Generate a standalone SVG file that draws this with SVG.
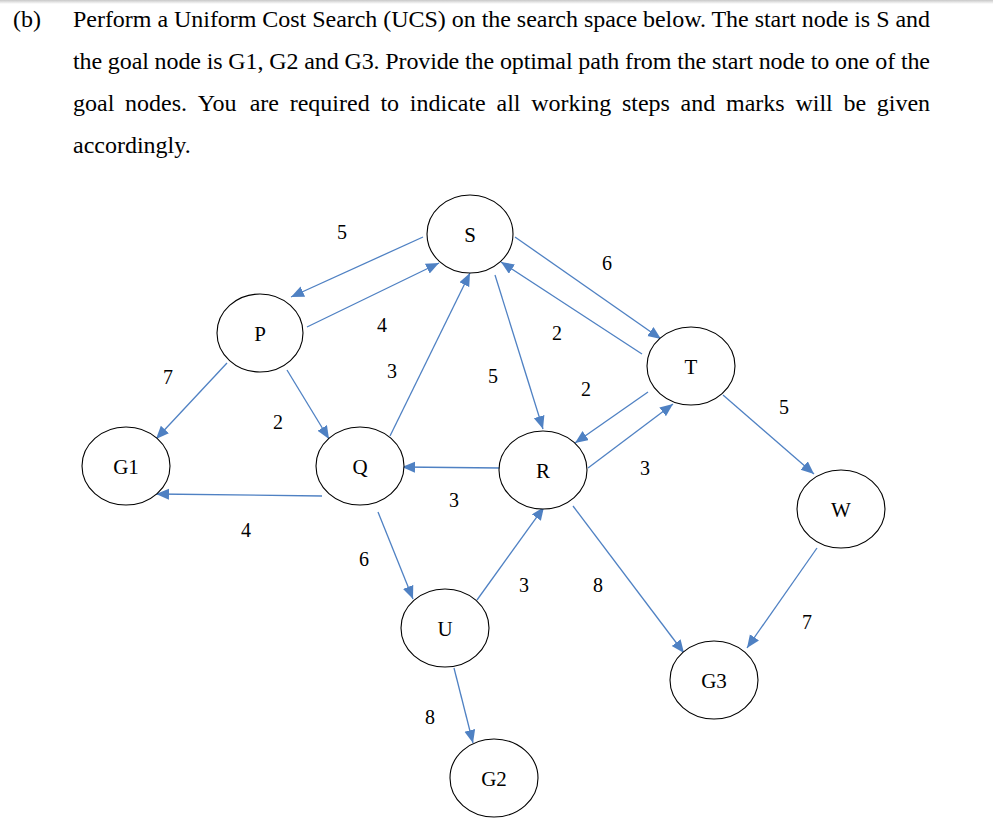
<svg xmlns="http://www.w3.org/2000/svg" width="993" height="826" viewBox="0 0 993 826">
<style>
.t{font-family:"Liberation Serif","Times New Roman",serif;font-size:24px;fill:#000}
.n{font-family:"Liberation Serif","Times New Roman",serif;font-size:21px;fill:#000;text-anchor:middle}
.w{font-family:"Liberation Serif","Times New Roman",serif;font-size:20px;fill:#000;text-anchor:middle}
ellipse{fill:#fff;stroke:#000;stroke-width:1.1}
.e{stroke:#4f81c3;stroke-width:1.3;fill:none;marker-end:url(#a)}
</style>
<defs>
<marker id="a" markerUnits="userSpaceOnUse" markerWidth="14" markerHeight="12" refX="13" refY="5.5" orient="auto">
<path d="M0,0 L13,5.5 L0,11 z" fill="#4f81c3"/>
</marker>
<linearGradient id="sh" x1="0" y1="0" x2="0" y2="1">
<stop offset="0" stop-color="#c8c8c8"/><stop offset="1" stop-color="#fff"/>
</linearGradient>
</defs>
<rect width="993" height="826" fill="#fff"/>
<rect width="993" height="4" fill="url(#sh)"/>
<g id="question">
<text class="t" x="13" y="27">(b)</text>
<text class="t" x="73" y="27" textLength="857" lengthAdjust="spacing">Perform a Uniform Cost Search (UCS) on the search space below. The start node is S and</text>
<text class="t" x="73" y="69" textLength="857" lengthAdjust="spacing">the goal node is G1, G2 and G3. Provide the optimal path from the start node to one of the</text>
<text class="t" y="111"><tspan x="73">goal</tspan><tspan x="125">nodes.</tspan><tspan x="197.7">You</tspan><tspan x="249.7">are</tspan><tspan x="289.7">required</tspan><tspan x="380.4">to</tspan><tspan x="409.8">indicate</tspan><tspan x="496.5">all</tspan><tspan x="531.2">working</tspan><tspan x="621.9">steps</tspan><tspan x="680.6">and</tspan><tspan x="726">marks</tspan><tspan x="795.4">will</tspan><tspan x="843.4">be</tspan><tspan x="876.8">given</tspan></text>
<text class="t" x="73" y="153">accordingly.</text>
</g>
<g id="connectors">
<line class="e" x1="423" y1="237" x2="291" y2="297"/>
<line class="e" x1="307" y1="327" x2="439" y2="263"/>
<line class="e" x1="390" y1="436" x2="470" y2="273"/>
<line class="e" x1="495" y1="275" x2="543" y2="429"/>
<line class="e" x1="515" y1="237" x2="661" y2="339"/>
<line class="e" x1="642" y1="354" x2="501" y2="262"/>
<line class="e" x1="648" y1="392" x2="575" y2="443"/>
<line class="e" x1="588" y1="468" x2="673" y2="404"/>
<line class="e" x1="723" y1="395" x2="814" y2="474"/>
<line class="e" x1="227" y1="363" x2="156" y2="439"/>
<line class="e" x1="287" y1="370" x2="329" y2="439"/>
<line class="e" x1="322" y1="496" x2="156" y2="494"/>
<line class="e" x1="500" y1="468" x2="402" y2="467"/>
<line class="e" x1="378" y1="512" x2="413" y2="599"/>
<line class="e" x1="477" y1="600" x2="544" y2="507"/>
<line class="e" x1="573" y1="506" x2="684" y2="653"/>
<line class="e" x1="817" y1="548" x2="747" y2="648"/>
<line class="e" x1="454" y1="668" x2="473" y2="743"/>
</g>
<g id="edge-labels">
<text class="w" x="342" y="239">5</text>
<text class="w" x="382" y="332">4</text>
<text class="w" x="392" y="378">3</text>
<text class="w" x="493" y="383">5</text>
<text class="w" x="607" y="270">6</text>
<text class="w" x="557" y="340">2</text>
<text class="w" x="586" y="396">2</text>
<text class="w" x="645" y="475">3</text>
<text class="w" x="784" y="414">5</text>
<text class="w" x="168" y="384">7</text>
<text class="w" x="278" y="429">2</text>
<text class="w" x="246" y="537">4</text>
<text class="w" x="454" y="507">3</text>
<text class="w" x="364" y="566">6</text>
<text class="w" x="524" y="592">3</text>
<text class="w" x="598" y="592">8</text>
<text class="w" x="807" y="629">7</text>
<text class="w" x="430" y="724">8</text>
</g>
<g id="node-S"><ellipse cx="470" cy="234" rx="43" ry="39"/><text class="n" x="470" y="242">S</text></g>
<g id="node-P"><ellipse cx="260" cy="333" rx="43" ry="39"/><text class="n" x="260" y="341">P</text></g>
<g id="node-T"><ellipse cx="691" cy="366" rx="44" ry="39"/><text class="n" x="691" y="374">T</text></g>
<g id="node-G1"><ellipse cx="126" cy="466" rx="44" ry="39"/><text class="n" x="126" y="474">G1</text></g>
<g id="node-Q"><ellipse cx="360" cy="466" rx="44" ry="39"/><text class="n" x="360" y="474">Q</text></g>
<g id="node-R"><ellipse cx="543" cy="470" rx="44" ry="39"/><text class="n" x="543" y="478">R</text></g>
<g id="node-W"><ellipse cx="841" cy="509" rx="44" ry="39"/><text class="n" x="841" y="517">W</text></g>
<g id="node-U"><ellipse cx="445" cy="628" rx="44" ry="39"/><text class="n" x="445" y="636">U</text></g>
<g id="node-G3"><ellipse cx="714" cy="680" rx="44" ry="39"/><text class="n" x="714" y="688">G3</text></g>
<g id="node-G2"><ellipse cx="494" cy="778" rx="44" ry="39"/><text class="n" x="494" y="786">G2</text></g>
</svg>
